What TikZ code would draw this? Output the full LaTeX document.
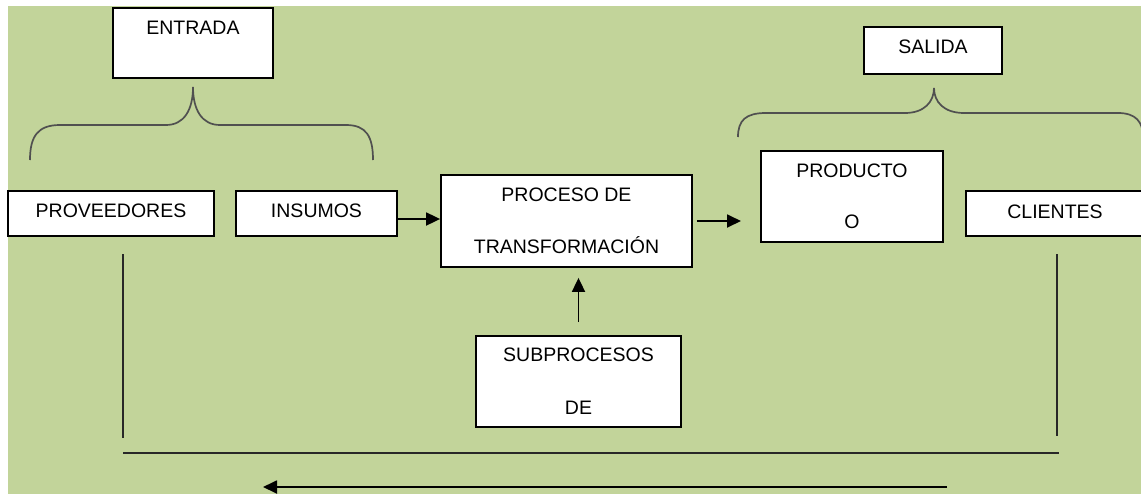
\documentclass[tikz,border=0pt]{standalone}
\usepackage{fontspec}
\setmainfont{Liberation Sans}
\usetikzlibrary{arrows.meta,calc}
\definecolor{bg}{RGB}{194,212,154}
\definecolor{bracegray}{RGB}{80,80,80}
\definecolor{linedark}{RGB}{40,40,40}
\begin{document}
\begin{tikzpicture}[x=1pt,y=-1pt,
  box/.style={draw=black, line width=1.8pt, fill=white, inner sep=0pt,
    font=\fontsize{19.5}{23.5}\selectfont},
  mbox/.style={box, align=center},
  conn/.style={draw=black, line width=1.8pt,
    -{Triangle[length=14pt,width=13pt]}},
  fline/.style={draw=linedark, line width=1.9pt},
  bracestyle/.style={draw=bracegray, line width=1.7pt}]
\useasboundingbox (0,0) rectangle (1141,493);
\fill[bg] (8,6) rectangle (1150,500);

% boxes
\node[box, minimum width=160pt, text height=26.5pt, text depth=43.5pt] (entrada) at (193,43) {ENTRADA};
\node[box, minimum width=138pt, text height=26.3pt, text depth=20.7pt] (salida) at (933,50.5) {SALIDA};
\node[box, minimum width=206pt, text height=26.5pt, text depth=18.5pt] (prov) at (111,213.5) {PROVEEDORES};
\node[box, minimum width=161pt, text height=26.5pt, text depth=18.5pt] (insumos) at (316.5,213.5) {INSUMOS};
\node[box, minimum width=178pt, text height=27pt, text depth=18pt] (clientes) at (1055,213.5) {CLIENTES};
\node[mbox, minimum width=251pt, minimum height=92pt] (proceso) at (566.5,221) {PROCESO DE\\[28.5pt]TRANSFORMACIÓN};
\node[mbox, minimum width=182pt, minimum height=91pt] (producto) at (852,196.5) {PRODUCTO\\[27.5pt]O};
\node[mbox, minimum width=205pt, minimum height=91pt] (sub) at (578.5,381.5) {SUBPROCESOS\\[29.5pt]DE};

% braces
\draw[bracestyle] (30,160) .. controls (30,136) and (38,125) .. (60,125) -- (166,125)
  .. controls (184,125) and (193,110) .. (193,87)
  .. controls (193,110) and (202,125) .. (220,125) -- (346,125)
  .. controls (366,125) and (373,136) .. (373,160);
\draw[bracestyle] (738,137) .. controls (738,120) and (746,113) .. (766,113) -- (905,113)
  .. controls (924,113) and (934,102) .. (934,88)
  .. controls (934,102) and (944,113) .. (964,113) -- (1118,113)
  .. controls (1136,113) and (1143,122) .. (1143,137);

% arrows between boxes
\path ([yshift=2pt]proceso.west) coordinate (pin);
\draw[conn] (insumos.east |- pin) -- (pin);
\path ([xshift=4pt]proceso.east) coordinate (pout);
\coordinate (pend) at (741,221);
\draw[conn] (pout) -- (pend);
\draw[conn, shorten <=13pt, shorten >=10pt] (sub.north) -- (sub.north |- proceso.south);

% feedback lines
\coordinate (fl1) at (123,254);
\coordinate (fl2) at (123,438);
\coordinate (fr1) at (1057,254);
\coordinate (fr2) at (1057,436);
\coordinate (fh1) at (123,453);
\coordinate (fh2) at (1059,453);
\coordinate (fa1) at (947,487);
\coordinate (fa2) at (263,487);
\draw[fline] (fl1) -- (fl2);
\draw[fline] (fr1) -- (fr2);
\draw[fline] (fh1) -- (fh2);
\draw[conn] (fa1) -- (fa2);
\end{tikzpicture}
\end{document}
